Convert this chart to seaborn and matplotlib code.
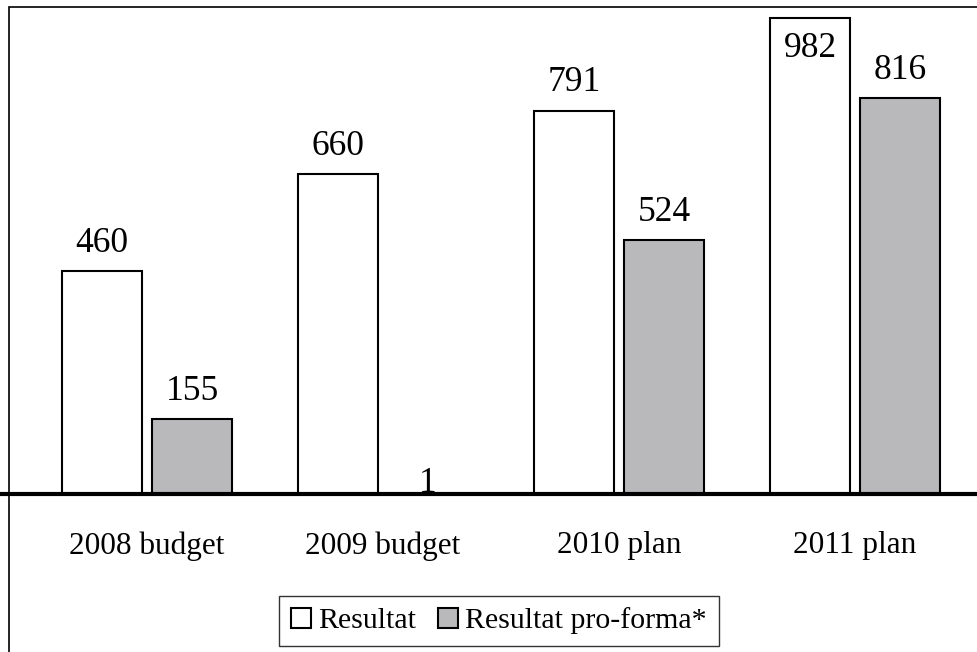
import pandas as pd
import matplotlib.pyplot as plt
import seaborn as sns
from matplotlib.patches import Rectangle

# Data
categories = ['2008 budget', '2009 budget', '2010 plan', '2011 plan']
resultat = [460, 660, 791, 982]
resultat_proforma = [155, 1, 524, 816]
series_names = ['Resultat', 'Resultat pro-forma*']

df = pd.DataFrame({
    'category': categories * 2,
    'value': resultat + resultat_proforma,
    'series': [series_names[0]] * 4 + [series_names[1]] * 4,
})

sns.set_style('white')
plt.rcParams['font.family'] = ['Liberation Serif', 'DejaVu Serif']
plt.rcParams['text.color'] = 'black'
plt.rcParams['xtick.color'] = 'black'

fig = plt.figure(figsize=(9.78, 6.52), dpi=100)
W, H = 978, 652
# axes from x=0..978 px, y baseline at 494 px, top at 0
ax = fig.add_axes([0, (H - 494) / H, 1, 494 / H])

sns.barplot(data=df, x='category', y='value', hue='series',
            palette=['white', '#b8b9bd'], edgecolor='black', linewidth=1.5,
            width=0.763, gap=0.111, ax=ax, legend=True)

ax.set_xlim(-147 / 236, (978 - 147) / 236)
ymax = 494 / 0.4848
ax.set_ylim(0, ymax)

for cont in ax.containers:
    labels = ax.bar_label(cont, fmt='%d', padding=8, fontsize=25.5, color='black')
    for txt, bar in zip(labels, cont):
        h = bar.get_height()
        if h > ymax * 0.9:
            # no room above: put it inside the bar top
            txt.xyann = (0, -34)
        elif h < 5:
            txt.xyann = (0, -5)

ax.set_xlabel('')
ax.set_ylabel('')
ax.set_yticks([])
ax.tick_params(axis='x', length=0, pad=27, labelsize=22.5, labelcolor='black')
for s in ['top', 'left', 'right']:
    ax.spines[s].set_visible(False)
ax.spines['bottom'].set_linewidth(3)
ax.spines['bottom'].set_color('black')
ax.patch.set_alpha(0)

leg = ax.legend(loc='center', bbox_to_anchor=(499 / W, (H - 621) / H),
                bbox_transform=fig.transFigure, ncol=2, fontsize=21.5,
                frameon=True, fancybox=False, edgecolor='black',
                handlelength=0.67, handleheight=0.67, handletextpad=0.23,
                columnspacing=0.74, borderpad=0.4, borderaxespad=0)
leg.get_frame().set_linewidth(1)
for t in leg.get_texts():
    t.set_color('black')

# outer frame
fig.patches.append(Rectangle((9 / W, -0.01), 1.0, 1 - 7 / H + 0.01,
                             transform=fig.transFigure, fill=False,
                             edgecolor='black', linewidth=1.2, zorder=0))

fig.savefig('out.png', dpi=100)
